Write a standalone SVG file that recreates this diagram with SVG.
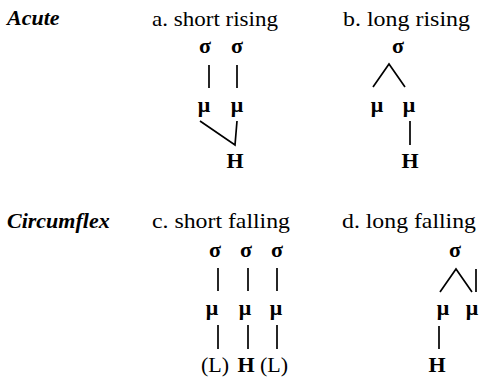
<svg xmlns="http://www.w3.org/2000/svg" width="479" height="380" viewBox="0 0 479 380">
<style>
.hd{font-family:"Liberation Serif",serif;font-size:22px;font-weight:bold;font-style:italic;fill:#000}
.lb{font-family:"Liberation Serif",serif;font-size:22px;fill:#000}
.sy{font-family:"Liberation Serif",serif;font-size:22px;font-weight:bold;fill:#000;text-anchor:middle}
.tn{font-family:"Liberation Serif",serif;font-size:22px;fill:#000;text-anchor:middle}
.ln{stroke:#000;stroke-width:1.7;fill:none;stroke-linecap:butt;stroke-linejoin:miter}
</style>
<rect width="479" height="380" fill="#fff"/>
<g id="headings">
<text class="hd" x="7" y="25">Acute</text>
<text class="hd" x="7" y="228">Circumflex</text>
<text class="lb" x="152" y="26" textLength="126" lengthAdjust="spacingAndGlyphs">a. short rising</text>
<text class="lb" x="343" y="26" textLength="127" lengthAdjust="spacingAndGlyphs">b. long rising</text>
<text class="lb" x="152" y="228" textLength="138" lengthAdjust="spacingAndGlyphs">c. short falling</text>
<text class="lb" x="342" y="228" textLength="134" lengthAdjust="spacingAndGlyphs">d. long falling</text>
</g>
<g id="node-a">
<text class="sy" x="205" y="53">σ</text>
<text class="sy" x="237" y="53">σ</text>
<text class="sy" x="204" y="112">μ</text>
<text class="sy" x="237" y="112">μ</text>
<text class="sy" x="235" y="168">H</text>
</g>
<g id="node-b">
<text class="sy" x="398" y="53">σ</text>
<text class="sy" x="377" y="112">μ</text>
<text class="sy" x="409" y="112">μ</text>
<text class="sy" x="410" y="168">H</text>
</g>
<g id="node-c">
<text class="sy" x="215" y="257">σ</text>
<text class="sy" x="246" y="257">σ</text>
<text class="sy" x="277" y="257">σ</text>
<text class="sy" x="212" y="315">μ</text>
<text class="sy" x="245" y="315">μ</text>
<text class="sy" x="276" y="315">μ</text>
<text class="tn" x="215" y="372">(L)</text>
<text class="sy" x="246" y="372">H</text>
<text class="tn" x="274" y="372">(L)</text>
</g>
<g id="node-d">
<text class="sy" x="455" y="257">σ</text>
<text class="sy" x="443" y="315">μ</text>
<text class="sy" x="472" y="315">μ</text>
<text class="sy" x="437" y="372">H</text>
</g>
<g id="connectors">
<line class="ln" x1="209" y1="65" x2="209" y2="88"/>
<line class="ln" x1="237" y1="65" x2="237" y2="88"/>
<polyline class="ln" points="200,121 235,145 237,121"/>
<polyline class="ln" points="373,87 389,64 405,87"/>
<line class="ln" x1="410" y1="121" x2="410" y2="145"/>
<line class="ln" x1="218" y1="268" x2="218" y2="291"/>
<line class="ln" x1="248" y1="268" x2="248" y2="291"/>
<line class="ln" x1="277" y1="268" x2="277" y2="291"/>
<line class="ln" x1="218" y1="325" x2="218" y2="349"/>
<line class="ln" x1="248" y1="325" x2="248" y2="349"/>
<line class="ln" x1="277" y1="325" x2="277" y2="349"/>
<polyline class="ln" points="440,292 456,269 472,292"/>
<line class="ln" x1="476" y1="269" x2="476" y2="292"/>
<line class="ln" x1="439" y1="326" x2="439" y2="349"/>
</g>
</svg>
